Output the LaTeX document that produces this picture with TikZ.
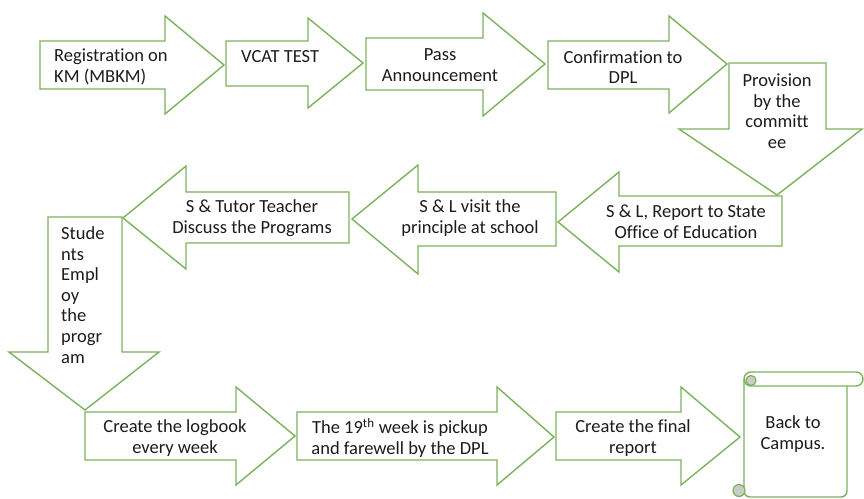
\documentclass[tikz,border=0pt]{standalone}
\usepackage{fontspec}
\setmainfont[Ligatures=NoCommon]{Carlito}
\definecolor{arrowgreen}{HTML}{7CB25C}
\definecolor{txt}{HTML}{1C1C1C}
\definecolor{curlgray}{HTML}{C8CCC4}
\begin{document}
\begin{tikzpicture}[x=1pt,y=-1pt,
  flow/.style={draw=arrowgreen,line width=1.4pt,fill=white,line join=miter},
  lbl/.style={text=txt,inner sep=0pt,font=\fontsize{18.5}{20.6}\selectfont},
  curl/.style={draw=arrowgreen,line width=1.2pt,fill=curlgray}]
\useasboundingbox (0,0) rectangle (864,498);
% Row 1
\draw[flow] (40,41) -- (165,41) -- (165,16) -- (224,65) -- (165,114) -- (165,89) -- (40,89) -- cycle;
\draw[flow] (226,41) -- (308,41) -- (308,18) -- (363,63) -- (308,108) -- (308,86) -- (226,86) -- cycle;
\draw[flow] (366,38) -- (483,38) -- (483,13) -- (545,64) -- (483,116) -- (483,90) -- (366,90) -- cycle;
\draw[flow] (548,41) -- (669,41) -- (669,16) -- (727,64) -- (669,113) -- (669,89) -- (548,89) -- cycle;
\draw[flow] (729,63) -- (826,63) -- (826,129) -- (862,129) -- (777,195) -- (679,129) -- (729,129) -- cycle;
% Row 2
\draw[flow] (782,196) -- (619,196) -- (619,172) -- (558,222) -- (619,272) -- (619,246) -- (782,246) -- cycle;
\draw[flow] (556,192) -- (418,192) -- (418,165) -- (352,219) -- (418,274) -- (418,246) -- (556,246) -- cycle;
\draw[flow] (349,192) -- (186,192) -- (186,166) -- (123,218) -- (186,269) -- (186,243) -- (349,243) -- cycle;
\draw[flow] (48,217) -- (122,217) -- (122,352) -- (159,352) -- (85,410) -- (9,352) -- (48,352) -- cycle;
% Row 3
\draw[flow] (85,412) -- (236,412) -- (236,387) -- (295,436) -- (236,485) -- (236,460) -- (85,460) -- cycle;
\draw[flow] (297,412) -- (497,412) -- (497,387) -- (554,437) -- (497,485) -- (497,460) -- (297,460) -- cycle;
\draw[flow] (556,412) -- (681,412) -- (681,387) -- (740,437) -- (681,485) -- (681,460) -- (556,460) -- cycle;
% Scroll
\draw[flow,rounded corners=6pt] (744,380) -- (744,497) -- (847,497) -- (847,386);
\draw[flow,rounded corners=7pt] (744,372) rectangle (863,386);
\draw[curl] (751,380.5) circle (5);
\draw[curl] (739,490.5) circle (6);
% Labels
\node[lbl,anchor=west,align=left] (t1) at (54,67) {Registration on\\KM (MBKM)};
\node[lbl,anchor=west] (t2) at (241,57) {VCAT TEST};
\node[lbl,align=center] (t3) at (440,65) {Pass\\Announcement};
\node[lbl,align=center] (t4) at (623,67) {Confirmation to\\DPL};
\node[lbl,align=center] (t5) at (777,111) {Provision\\by the\\committ\\ee};
\node[lbl,align=center] (t6) at (686,222) {S \& L, Report to State\\Office of Education};
\node[lbl,align=center] (t7) at (470,218) {S \& L visit the\\principle at school};
\node[lbl,align=center] (t8) at (252,218) {S \& Tutor Teacher\\Discuss the Programs};
\node[lbl,anchor=west,align=left] (t9) at (61,295) {Stude\\nts\\Empl\\oy\\the\\progr\\am};
\node[lbl,align=center] (t10) at (175,438) {Create the logbook\\every week};
\node[lbl,align=center] (t11) at (400,438) {The 19\textsuperscript{th} week is pickup\\and farewell by the DPL};
\node[lbl,align=center] (t12) at (633,438) {Create the final\\report};
\node[lbl,align=center] (t13) at (793,434) {Back to\\Campus.};
\end{tikzpicture}
\end{document}
